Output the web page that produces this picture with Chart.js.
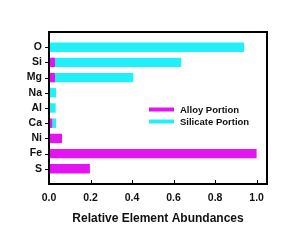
<!DOCTYPE html>
<html><head><meta charset="utf-8">
<script src="https://cdn.jsdelivr.net/npm/chart.js@4/dist/chart.umd.min.js"></script>
<style>html,body{margin:0;padding:0;background:#fff}#w{width:299px;height:247px}</style>
</head><body><div id="w"><canvas id="c" width="299" height="247"></canvas></div>
<script>
const categories = ['O','Si','Mg','Na','Al','Ca','Ni','Fe','S'];
const alloyPortion = [0, 0.029, 0.029, 0, 0, 0.016, 0.063, 1.0, 0.197];
const silicatePortion = [0.94, 0.608, 0.377, 0.034, 0.032, 0.018, 0, 0, 0];
const xTicks = [0, 0.2, 0.4, 0.6, 0.8, 1.0];
const seriesNames = ['Alloy Portion', 'Silicate Portion'];
const xTitle = 'Relative Element Abundances';

const FONT = "'Liberation Sans', Arial, sans-serif";
const MAGENTA = '#e414f2';
const CYAN = '#22f0f8';
const INK = '#111111';

const frame = {
  id: 'frame',
  afterDraw(chart) {
    const ctx = chart.ctx;
    const xs = chart.scales.x, ys = chart.scales.y;
    const L = Math.round(xs.getPixelForValue(0));
    const R = Math.round(xs.getPixelForValue(1.05));
    const T = Math.round(ys.getPixelForValue(-1));
    const B = Math.round(ys.getPixelForValue(9));
    ctx.save();
    ctx.fillStyle = '#000000';
    ctx.fillRect(L - 1, T - 1, R - L + 2, 2);
    ctx.fillRect(L - 1, B - 1, R - L + 2, 2);
    ctx.fillRect(L - 1, T - 1, 2, B - T + 2);
    ctx.fillRect(R - 1, T - 1, 2, B - T + 2);
    xTicks.forEach(v => {
      const px = Math.round(xs.getPixelForValue(v));
      ctx.fillRect(px, B - 4, 1, 4);
    });
    categories.forEach((c, i) => {
      const py = Math.round(ys.getPixelForValue(i));
      ctx.fillRect(L - 4, py, 3, 1);
    });
    const ds = chart.data.datasets;
    ctx.font = 'bold 9.5px ' + FONT;
    ctx.textBaseline = 'middle';
    ds.forEach((d, i) => {
      const y = T + 77.5 + i * 12;
      ctx.fillStyle = d.backgroundColor;
      ctx.fillRect(L + 100, y - 2, 25, 4);
      ctx.fillStyle = INK;
      ctx.fillText(d.label, L + 131, y + 0.5);
    });
    ctx.restore();
  }
};

new Chart(document.getElementById('c'), {
  type: 'bar',
  data: {
    datasets: [
      { label: seriesNames[0], data: alloyPortion.map((v, i) => ({x: v, y: i})), backgroundColor: MAGENTA, borderWidth: 0 },
      { label: seriesNames[1], data: silicatePortion.map((v, i) => ({x: v, y: i})), backgroundColor: CYAN, borderWidth: 0 }
    ]
  },
  options: {
    indexAxis: 'y',
    responsive: false,
    animation: false,
    devicePixelRatio: 1,
    barPercentage: 0.62,
    categoryPercentage: 1,
    layout: { padding: { top: 32, right: 32, left: 0, bottom: 0 } },
    plugins: { legend: { display: false }, tooltip: { enabled: false } },
    scales: {
      x: {
        type: 'linear', stacked: true, min: 0, max: 1.05, offset: false,
        afterBuildTicks: s => { s.ticks = xTicks.map(v => ({value: v})); },
        afterFit: s => { s.height = 63; },
        grid: { display: false, drawTicks: false },
        border: { display: true, color: '#000', width: 1.5 },
        ticks: { padding: 8, color: INK, font: { family: FONT, weight: 'bold', size: 10.5 }, callback: v => Number(v).toFixed(1), maxRotation: 0 },
        title: { display: true, text: xTitle, color: INK, font: { family: FONT, weight: 'bold', size: 12 }, padding: { top: 0, bottom: 21 } }
      },
      y: {
        type: 'linear', stacked: true, reverse: true, min: -1, max: 9, offset: false,
        afterBuildTicks: s => { s.ticks = categories.map((c, i) => ({value: i})); },
        afterFit: s => { s.width = 49; },
        grid: { display: false, drawTicks: false },
        border: { display: true, color: '#000', width: 1.5 },
        ticks: { padding: 7, color: INK, font: { family: FONT, weight: 'bold', size: 10.5 }, callback: v => categories[v] ?? '' }
      }
    }
  },
  plugins: [frame]
});
</script></body></html>
